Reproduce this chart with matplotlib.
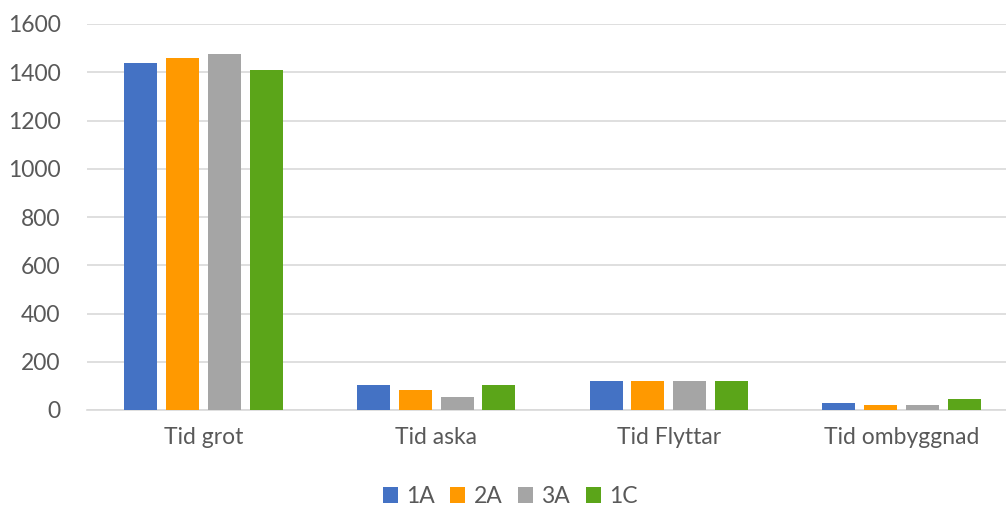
import matplotlib
matplotlib.use("Agg")
from matplotlib import pyplot as plt
import numpy as np

categories = ["Tid grot", "Tid aska", "Tid Flyttar", "Tid ombyggnad"]
series_names = ["1A", "2A", "3A", "1C"]
values_1a = [1438, 103, 121, 29]
values_2a = [1457, 83, 121, 20]
values_3a = [1476, 55, 121, 20]
values_1c = [1409, 103, 121, 46]
colors = ["#4472c4", "#ff9900", "#a5a5a5", "#5ba519"]

plt.rcParams["font.family"] = ["Lato", "DejaVu Sans"]

fig = plt.figure(figsize=(10.06, 5.12), dpi=100)
# plot area runs a little past the right edge, like the original
ax = fig.add_axes([87 / 1006, 1 - 410 / 512, 931 / 1006, (410 - 24) / 512])

x = np.arange(len(categories))
width = 0.142
step = 0.18
all_values = [values_1a, values_2a, values_3a, values_1c]
for i, (name, vals, col) in enumerate(zip(series_names, all_values, colors)):
    ax.bar(x + (i - 1.5) * step, vals, width=width, color=col, label=name, zorder=3)

ax.set_xlim(-0.5, len(categories) - 0.5)
ax.set_ylim(0, 1600)
ax.set_yticks(np.arange(0, 1601, 200))
ax.yaxis.grid(True, color="#d9d9d9", linewidth=1.2, zorder=0)
for s in ["top", "right", "left"]:
    ax.spines[s].set_visible(False)
ax.spines["bottom"].set_color("#d9d9d9")
ax.spines["bottom"].set_linewidth(1.2)
ax.set_xticks(x)
ax.set_xticklabels(categories)
ax.tick_params(axis="both", length=0, labelsize=16.5, colors="#595959")
ax.tick_params(axis="x", pad=12)
ax.tick_params(axis="y", pad=19)

fig.legend(loc="center", bbox_to_anchor=(0.507, 0.03), ncol=4,
           frameon=False, fontsize=16.5, labelcolor="#595959", handlelength=0.65,
           handleheight=0.65, handletextpad=0.35, columnspacing=0.7)

fig.savefig("out.png", dpi=100)
